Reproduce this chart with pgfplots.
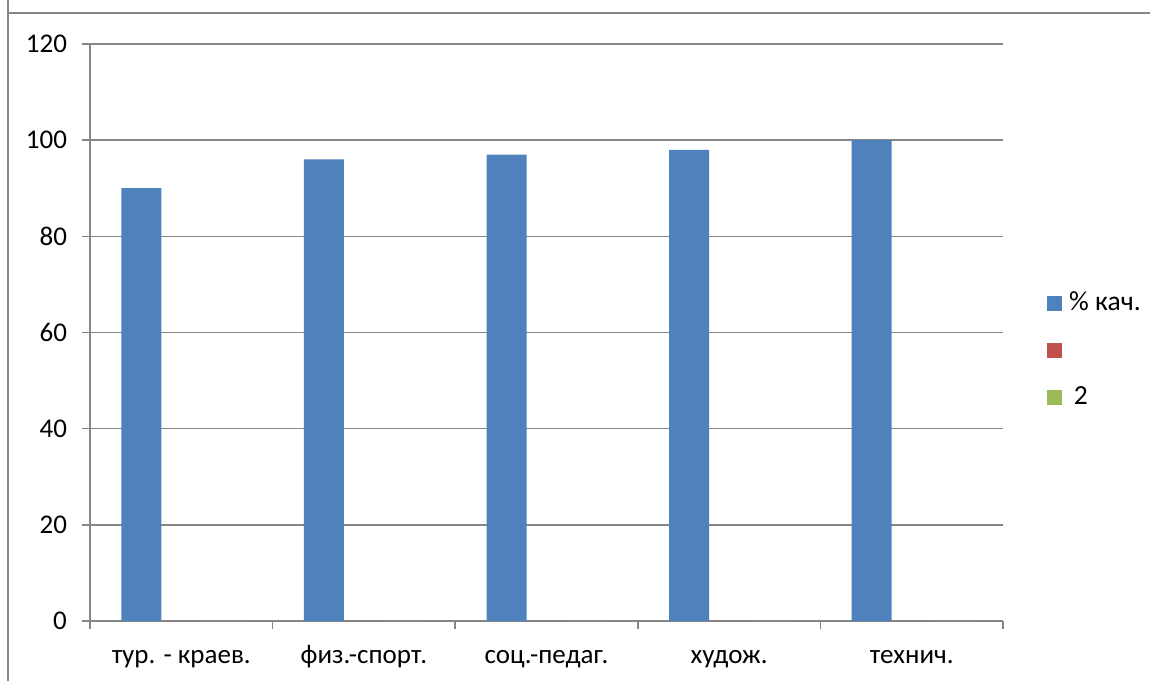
\documentclass[border=0pt]{standalone}
\usepackage{pgfplots}
\pgfplotsset{compat=1.18}
\usepackage{fontspec}
\setmainfont{Carlito}
\definecolor{sA}{HTML}{4F81BD}
\definecolor{sB}{HTML}{C0504D}
\definecolor{sC}{HTML}{9BBB59}
\definecolor{axgray}{HTML}{868686}
\begin{document}
\begin{tikzpicture}[x=0.5pt,y=0.5pt]
\useasboundingbox (0,0) rectangle (1150,680);
\draw[axgray, line width=0.8pt] (8,1000) -- (8,667) -- (1200,667);
\draw[axgray, line width=0.8pt] (8,667) -- (8,-20);
\begin{axis}[
  at={(45pt,29.5pt)}, anchor=south west,
  scale only axis, width=456.5pt, height=288.5pt,
  font=\fontsize{13.5}{15}\selectfont,
  /pgf/number format/assume math mode=true,
  xmin=-0.5, xmax=4.5, ymin=0, ymax=120,
  ytick={0,20,...,120},
  xtick={0,1,2,3,4},
  xticklabels={тур. - краев., физ.-спорт., соц.-педаг., худож., технич.},
  minor xtick={-0.5,0.5,1.5,2.5,3.5,4.5},
  axis x line*=bottom, axis y line*=left,
  axis line style={axgray, line width=0.8pt, -},
  major x tick style={draw=none},
  minor x tick style={axgray, line width=0.8pt},
  major y tick style={axgray, line width=0.8pt},
  tick align=outside, major tick length=4pt, minor tick length=4pt,
  ymajorgrids, grid style={axgray, line width=0.8pt},
  yticklabel style={xshift=-4pt},
  xticklabel style={anchor=base, yshift=-17pt},
  ybar, bar width=20pt,
  legend style={at={(1.048,0.4697)}, anchor=west, draw=none, fill=none, inner sep=0pt,
    legend cell align=left, row sep=9pt, font=\fontsize{13.8}{15}\selectfont},
  legend image code/.code={\fill[#1] (0pt,-3.75pt) rectangle (7.5pt,3.75pt);},
  clip=false,
]
\addplot[fill=sA, draw=none, bar shift=-20pt] coordinates {(0,90) (1,96) (2,97) (3,98) (4,100)};
\addlegendentry{\hspace{1.5pt}\% кач.}
\addplot[fill=sB, draw=none, bar shift=0pt] coordinates {(0,0) (1,0) (2,0) (3,0) (4,0)};
\addlegendentry{\phantom{2}}
\addplot[fill=sC, draw=none, bar shift=20pt] coordinates {(0,0) (1,0) (2,0) (3,0) (4,0)};
\addlegendentry{\hspace{1.5pt}\,2}
\end{axis}
\end{tikzpicture}
\end{document}
